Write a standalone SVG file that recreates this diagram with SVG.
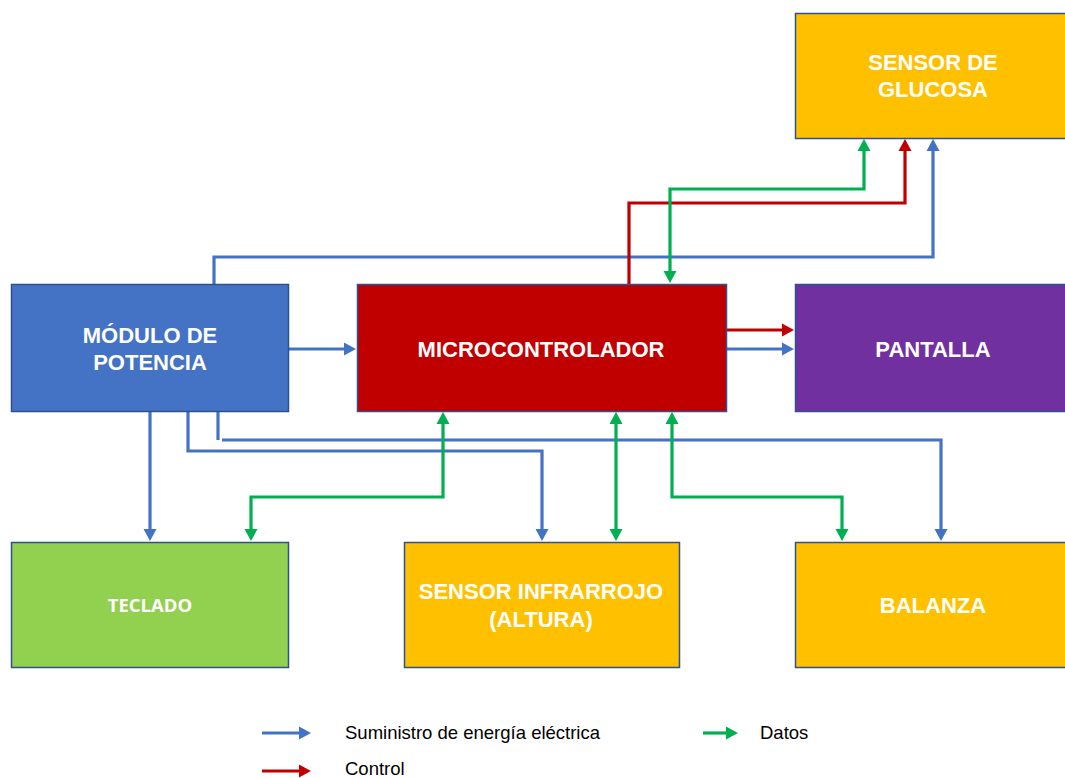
<svg xmlns="http://www.w3.org/2000/svg" width="1065" height="778" viewBox="0 0 1065 778">
<defs>
<style>
.box{stroke:#2F528F;stroke-width:1.5}
.lbl{font-family:"Liberation Sans",Arial,sans-serif;font-weight:bold;font-size:22px;fill:#fff;text-anchor:middle}
.lbl2{font-family:"Open Sans","Lato",sans-serif;font-weight:bold;font-size:18.5px;fill:#fff;text-anchor:middle}
.leg{font-family:"Liberation Sans",Arial,sans-serif;font-size:18.5px;fill:#000}
.c{fill:none;stroke-width:3.2;stroke-linejoin:miter}
.b{stroke:#4472C4}.r{stroke:#C00000}.g{stroke:#00B050}
</style>
<marker id="ab" markerUnits="userSpaceOnUse" markerWidth="13" markerHeight="14" refX="1" refY="6.5" orient="auto-start-reverse" viewBox="0 0 13 13"><path d="M0,0 L12,6.5 L0,13 Z" fill="#4472C4"/></marker>
<marker id="ar" markerUnits="userSpaceOnUse" markerWidth="13" markerHeight="14" refX="1" refY="6.5" orient="auto-start-reverse" viewBox="0 0 13 13"><path d="M0,0 L12,6.5 L0,13 Z" fill="#C00000"/></marker>
<marker id="ag" markerUnits="userSpaceOnUse" markerWidth="13" markerHeight="14" refX="1" refY="6.5" orient="auto-start-reverse" viewBox="0 0 13 13"><path d="M0,0 L12,6.5 L0,13 Z" fill="#00B050"/></marker>
</defs>

<g id="connectors">
<path class="c b" d="M214,284 V257 H933 V150" marker-end="url(#ab)"/>
<path class="c r" d="M629,284 V203 H905 V150" marker-end="url(#ar)"/>
<path class="c g" d="M864,150 V189 H670 V272" marker-start="url(#ag)" marker-end="url(#ag)"/>
<path class="c r" d="M726,330 H783" marker-end="url(#ar)"/>
<path class="c b" d="M726,349 H783" marker-end="url(#ab)"/>
<path class="c b" d="M288,349 H345" marker-end="url(#ab)"/>
<path class="c b" d="M150,411 V530" marker-end="url(#ab)"/>
<path class="c b" d="M188,411 V451 H542 V530" marker-end="url(#ab)"/>
<path class="c b" d="M218,411 V440"/>
<path class="c b" d="M222,440 H941 V530" marker-end="url(#ab)"/>
<path class="c g" d="M443,423 V497 H251 V530" marker-start="url(#ag)" marker-end="url(#ag)"/>
<path class="c g" d="M616,423 V530" marker-start="url(#ag)" marker-end="url(#ag)"/>
<path class="c g" d="M672,423 V497 H842 V530" marker-start="url(#ag)" marker-end="url(#ag)"/>
</g>

<g id="glucosa">
<rect class="box" x="795.5" y="13.5" width="280" height="125" fill="#FFC000"/>
<text class="lbl" x="933" y="70">SENSOR DE</text>
<text class="lbl" x="933" y="97">GLUCOSA</text>
</g>
<g id="modulo">
<rect class="box" x="11.5" y="284.5" width="277" height="127" fill="#4472C4"/>
<text class="lbl" x="150" y="343">MÓDULO DE</text>
<text class="lbl" x="150" y="370">POTENCIA</text>
</g>
<g id="micro">
<rect class="box" x="357.5" y="284.5" width="369" height="127" fill="#C00000"/>
<text class="lbl" x="541" y="357">MICROCONTROLADOR</text>
</g>
<g id="pantalla">
<rect class="box" x="795.5" y="284.5" width="280" height="127" fill="#7030A0"/>
<text class="lbl" x="933" y="357">PANTALLA</text>
</g>
<g id="teclado">
<rect class="box" x="11.5" y="542.5" width="277" height="125" fill="#92D050"/>
<text class="lbl2" x="150" y="612">TECLADO</text>
</g>
<g id="infrarrojo">
<rect class="box" x="404.5" y="542.5" width="275" height="125" fill="#FFC000"/>
<text class="lbl" x="541" y="599">SENSOR INFRARROJO</text>
<text class="lbl" x="541" y="627">(ALTURA)</text>
</g>
<g id="balanza">
<rect class="box" x="795.5" y="542.5" width="280" height="125" fill="#FFC000"/>
<text class="lbl" x="933" y="613">BALANZA</text>
</g>

<g id="legend">
<path class="c b" d="M262,733 H300" stroke-width="3.5" marker-end="url(#ab)"/>
<text class="leg" x="345" y="739">Suministro de energía eléctrica</text>
<path class="c g" d="M703,733 H727" stroke-width="3.5" marker-end="url(#ag)"/>
<text class="leg" x="760" y="739">Datos</text>
<path class="c r" d="M262,771 H300" stroke-width="3.5" marker-end="url(#ar)"/>
<text class="leg" x="345" y="775">Control</text>
</g>
</svg>
